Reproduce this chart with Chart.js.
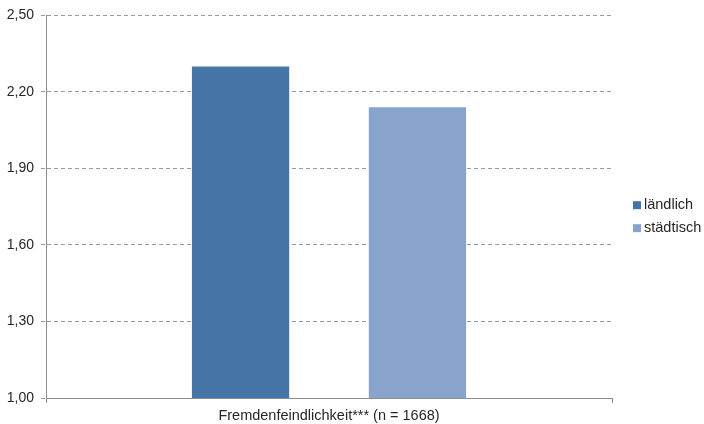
<!DOCTYPE html>
<html lang="de">
<head>
    <meta charset="UTF-8">
    <title>Fremdenfeindlichkeit</title>
    <style>
        body {
            margin: 0;
            padding: 0;
            background: #fff;
            font-family: "Liberation Sans", Arial, sans-serif;
        }

        .chart-box {
            position: relative;
            width: 704px;
            height: 424px;
        }
    </style>
    <script src="https://cdn.jsdelivr.net/npm/chart.js"></script>
</head>
<body>
    <div class="chart-box">
        <canvas id="chart" width="704" height="424"></canvas>
    </div>
<script>
    // Mittelwerte nach Wohnort
    var categories = ['Fremdenfeindlichkeit*** (n = 1668)'];
    var seriesNames = ['ländlich', 'städtisch'];
    var seriesColors = ['#4574a6', '#89a4cc'];
    var valuesLaendlich = [2.30];
    var valuesStaedtisch = [2.14];
    var yTicks = [1.00, 1.30, 1.60, 1.90, 2.20, 2.50];

    var fontFamily = '"Liberation Sans", Arial, sans-serif';
    var textColor = '#262626';

    // Legende rechts neben dem Diagramm
    var sideLegend = {
        id: 'sideLegend',
        afterDraw: function (c) {
            var g = c.ctx;
            var x = c.chartArea.right + 21;
            var yMid = (c.chartArea.top + c.chartArea.bottom) / 2;
            g.save();
            g.font = '14.5px ' + fontFamily;
            g.textBaseline = 'middle';
            g.textAlign = 'left';
            c.data.datasets.forEach(function (ds, i) {
                var y = yMid - 1.5 + i * 23;
                g.fillStyle = ds.backgroundColor;
                g.fillRect(x, y - 4, 8, 8);
                g.fillStyle = textColor;
                g.fillText(ds.label, x + 11, y);
            });
            g.restore();
        }
    };

    var ctx = document.getElementById('chart').getContext('2d');

    var chart = new Chart(ctx, {
        type: 'bar',
        data: {
            labels: categories,
            datasets: [{
                label: seriesNames[0],
                data: valuesLaendlich,
                backgroundColor: seriesColors[0],
                categoryPercentage: 0.625,
                barPercentage: 0.55
            }, {
                label: seriesNames[1],
                data: valuesStaedtisch,
                backgroundColor: seriesColors[1],
                categoryPercentage: 0.625,
                barPercentage: 0.55
            }]
        },
        options: {
            responsive: false,
            animation: false,
            layout: {
                padding: { left: 0, top: 13, right: 92, bottom: 0 }
            },
            plugins: {
                legend: { display: false },
                tooltip: { enabled: false }
            },
            scales: {
                x: {
                    offset: true,
                    border: { color: '#8c8c8c', width: 1 },
                    grid: {
                        offset: true,
                        drawOnChartArea: false,
                        drawTicks: true,
                        tickLength: 5,
                        color: '#8c8c8c'
                    },
                    ticks: {
                        color: textColor,
                        padding: 4,
                        font: { family: fontFamily, size: 14.5 }
                    },
                    afterFit: function (scale) {
                        scale.height = 26;
                    }
                },
                y: {
                    min: 1,
                    max: 2.5,
                    border: { color: '#8c8c8c', width: 1, dash: [4, 3] },
                    grid: {
                        color: '#9a9a9a',
                        tickLength: 5,
                        tickBorderDash: [4, 3],
                        drawTicks: true
                    },
                    ticks: {
                        color: textColor,
                        padding: 7,
                        font: { family: fontFamily, size: 14 },
                        callback: function (v) {
                            return v.toFixed(2).replace('.', ',');
                        }
                    },
                    afterBuildTicks: function (scale) {
                        scale.ticks = yTicks.map(function (v) { return { value: v }; });
                    },
                    afterFit: function (scale) {
                        scale.width = 46;
                    }
                }
            }
        },
        plugins: [sideLegend]
    });
</script>
</body>
</html>
